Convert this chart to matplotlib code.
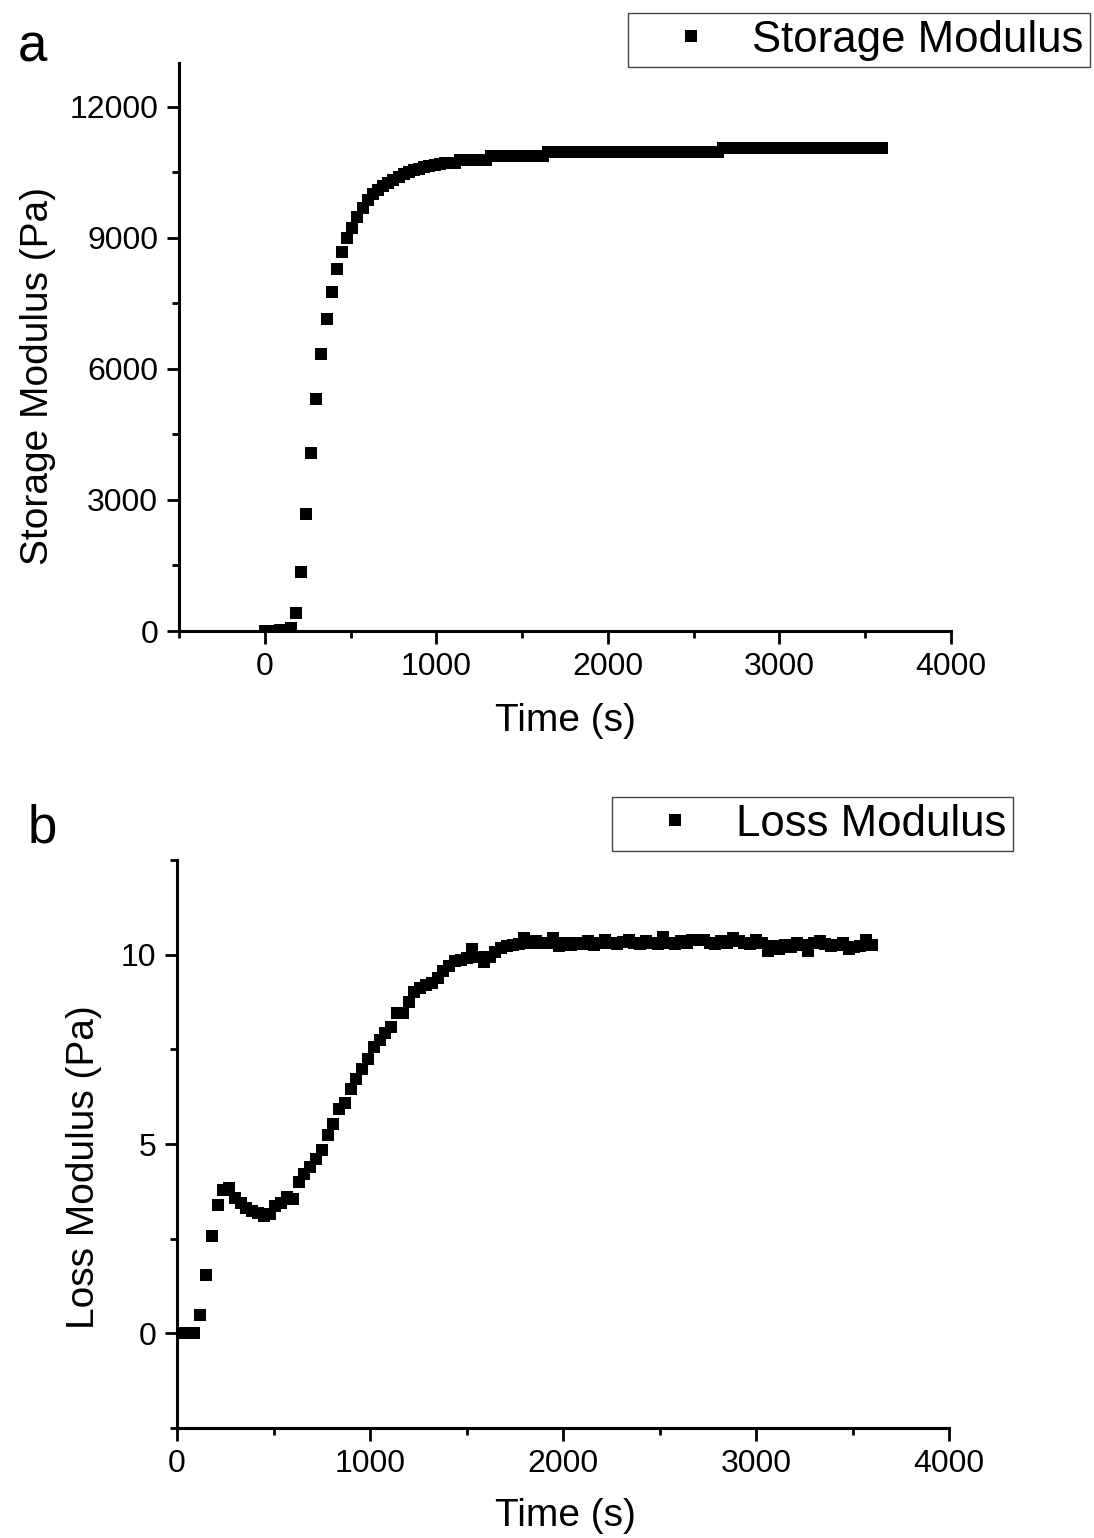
import matplotlib
matplotlib.use('Agg')
import matplotlib.pyplot as plt
from matplotlib.ticker import MultipleLocator

plt.rcParams['font.family'] = ['Liberation Sans', 'DejaVu Sans']

# sampling times (s), shared by both sweeps
time_s = [
    0, 30, 60, 90, 120, 150, 180, 210, 240, 270, 300, 330, 360, 390, 420,
    450, 480, 510, 540, 570, 600, 630, 660, 690, 720, 750, 780, 810, 840, 870,
    900, 930, 960, 990, 1020, 1050, 1080, 1110, 1140, 1170, 1200, 1230, 1260, 1290, 1320,
    1350, 1380, 1410, 1440, 1470, 1500, 1530, 1560, 1590, 1620, 1650, 1680, 1710, 1740, 1770,
    1800, 1830, 1860, 1890, 1920, 1950, 1980, 2010, 2040, 2070, 2100, 2130, 2160, 2190, 2220,
    2250, 2280, 2310, 2340, 2370, 2400, 2430, 2460, 2490, 2520, 2550, 2580, 2610, 2640, 2670,
    2700, 2730, 2760, 2790, 2820, 2850, 2880, 2910, 2940, 2970, 3000, 3030, 3060, 3090, 3120,
    3150, 3180, 3210, 3240, 3270, 3300, 3330, 3360, 3390, 3420, 3450, 3480, 3510, 3540, 3570,
    3600,
]

storage_pa = [
    5, 8, 10, 15, 30, 70, 410, 1340, 2670, 4070, 5310, 6330, 7150, 7760, 8280,
    8670, 8990, 9220, 9470, 9680, 9870, 10000, 10100, 10180, 10260, 10330, 10400, 10450, 10500, 10540,
    10580, 10620, 10650, 10670, 10690, 10700, 10710, 10720, 10780, 10780, 10780, 10780, 10780, 10780, 10870,
    10870, 10870, 10870, 10870, 10870, 10870, 10870, 10870, 10870, 10870, 10965, 10965, 10965, 10965, 10965,
    10965, 10965, 10965, 10965, 10965, 10965, 10965, 10965, 10965, 10965, 10965, 10965, 10965, 10965, 10965,
    10965, 10965, 10965, 10965, 10965, 10965, 10965, 10965, 10965, 10965, 10965, 10965, 10965, 10965, 11065,
    11065, 11065, 11065, 11065, 11065, 11065, 11065, 11065, 11065, 11065, 11065, 11065, 11065, 11065, 11065,
    11065, 11065, 11065, 11065, 11065, 11065, 11065, 11065, 11065, 11065, 11065, 11065, 11065, 11065, 11065,
    11065,
]

loss_pa = [
    0, 0, 0, 0, 0.49, 1.54, 2.57, 3.40, 3.78, 3.83, 3.58, 3.45, 3.32, 3.24, 3.19,
    3.10, 3.15, 3.37, 3.45, 3.59, 3.55, 3.99, 4.21, 4.39, 4.60, 4.83, 5.23, 5.54, 5.93, 6.08,
    6.46, 6.72, 6.98, 7.25, 7.57, 7.74, 7.92, 8.09, 8.45, 8.45, 8.76, 9.02, 9.11, 9.20, 9.25,
    9.38, 9.56, 9.69, 9.82, 9.87, 9.90, 10.15, 9.95, 9.80, 9.95, 10.08, 10.17, 10.22, 10.26, 10.28,
    10.43, 10.30, 10.35, 10.32, 10.30, 10.43, 10.22, 10.30, 10.26, 10.30, 10.28, 10.35, 10.25, 10.30, 10.38,
    10.30, 10.27, 10.33, 10.40, 10.30, 10.28, 10.35, 10.30, 10.28, 10.47, 10.32, 10.28, 10.35, 10.30, 10.40,
    10.38, 10.40, 10.32, 10.28, 10.36, 10.30, 10.45, 10.35, 10.30, 10.28, 10.38, 10.32, 10.10, 10.22, 10.15,
    10.25, 10.20, 10.30, 10.25, 10.10, 10.30, 10.35, 10.28, 10.22, 10.25, 10.30, 10.15, 10.20, 10.22, 10.40,
    10.25,
]

W, H = 1094, 1538
TICK_FS = 23
LABEL_FS = 28
LEGEND_FS = 31.5


def style_axis(ax):
    for side in ('top', 'right'):
        ax.spines[side].set_visible(False)
    for side in ('left', 'bottom'):
        ax.spines[side].set_linewidth(2.2)
    ax.tick_params(which='major', direction='out', length=9, width=2,
                   labelsize=TICK_FS, pad=6)
    ax.tick_params(which='minor', direction='out', length=5, width=2)


def add_legend(ax, label, x0, y0):
    leg = ax.legend([ax.lines[0]], [label], loc='upper left',
                    bbox_to_anchor=(x0 / W, 1 - y0 / H),
                    bbox_transform=ax.figure.transFigure,
                    fontsize=LEGEND_FS, borderaxespad=0, borderpad=0.15,
                    handlelength=2.6, handletextpad=0.08, markerscale=1.0,
                    fancybox=False, framealpha=1, edgecolor='#444444')
    leg.get_frame().set_linewidth(1.0)
    return leg


fig = plt.figure(figsize=(W / 100, H / 100), dpi=100)

# panel a: storage modulus
ax_a = fig.add_axes([179 / W, 1 - 631 / H, (951 - 179) / W, (631 - 63) / H])
ax_a.plot(time_s, storage_pa, 's', color='black', ms=8.8, mew=0)
ax_a.set_xlim(-500, 4000)
ax_a.set_ylim(0, 13000)
ax_a.set_xticks([0, 1000, 2000, 3000, 4000])
ax_a.set_yticks([0, 3000, 6000, 9000, 12000])
ax_a.xaxis.set_minor_locator(MultipleLocator(500))
ax_a.yaxis.set_minor_locator(MultipleLocator(1500))
style_axis(ax_a)
ax_a.set_xlabel('Time (s)', fontsize=LABEL_FS)
ax_a.xaxis.set_label_coords(0.5, -0.127)
ax_a.set_ylabel('Storage Modulus (Pa)', fontsize=LABEL_FS, va='center')
ax_a.yaxis.set_label_coords(-0.183, 0.449)
add_legend(ax_a, 'Storage Modulus', 628, 13)

# panel b: loss modulus
ax_b = fig.add_axes([177 / W, 1 - 1428 / H, (949 - 177) / W, (1428 - 860) / H])
ax_b.plot(time_s, loss_pa, 's', color='black', ms=8.8, mew=0)
ax_b.set_xlim(0, 4000)
ax_b.set_ylim(-2.5, 12.5)
ax_b.set_xticks([0, 1000, 2000, 3000, 4000])
ax_b.set_yticks([0, 5, 10])
ax_b.xaxis.set_minor_locator(MultipleLocator(500))
ax_b.yaxis.set_minor_locator(MultipleLocator(2.5))
style_axis(ax_b)
ax_b.set_xlabel('Time (s)', fontsize=LABEL_FS)
ax_b.xaxis.set_label_coords(0.503, -0.123)
ax_b.set_ylabel('Loss Modulus (Pa)', fontsize=LABEL_FS, va='center')
ax_b.yaxis.set_label_coords(-0.12, 0.46)
add_legend(ax_b, 'Loss Modulus', 612, 797)

fig.text(18 / W, 1 - 62 / H, 'a', fontsize=38, va='baseline', ha='left')
fig.text(28 / W, 1 - 843 / H, 'b', fontsize=38, va='baseline', ha='left')

fig.savefig('out.png', dpi=100, facecolor='white')
